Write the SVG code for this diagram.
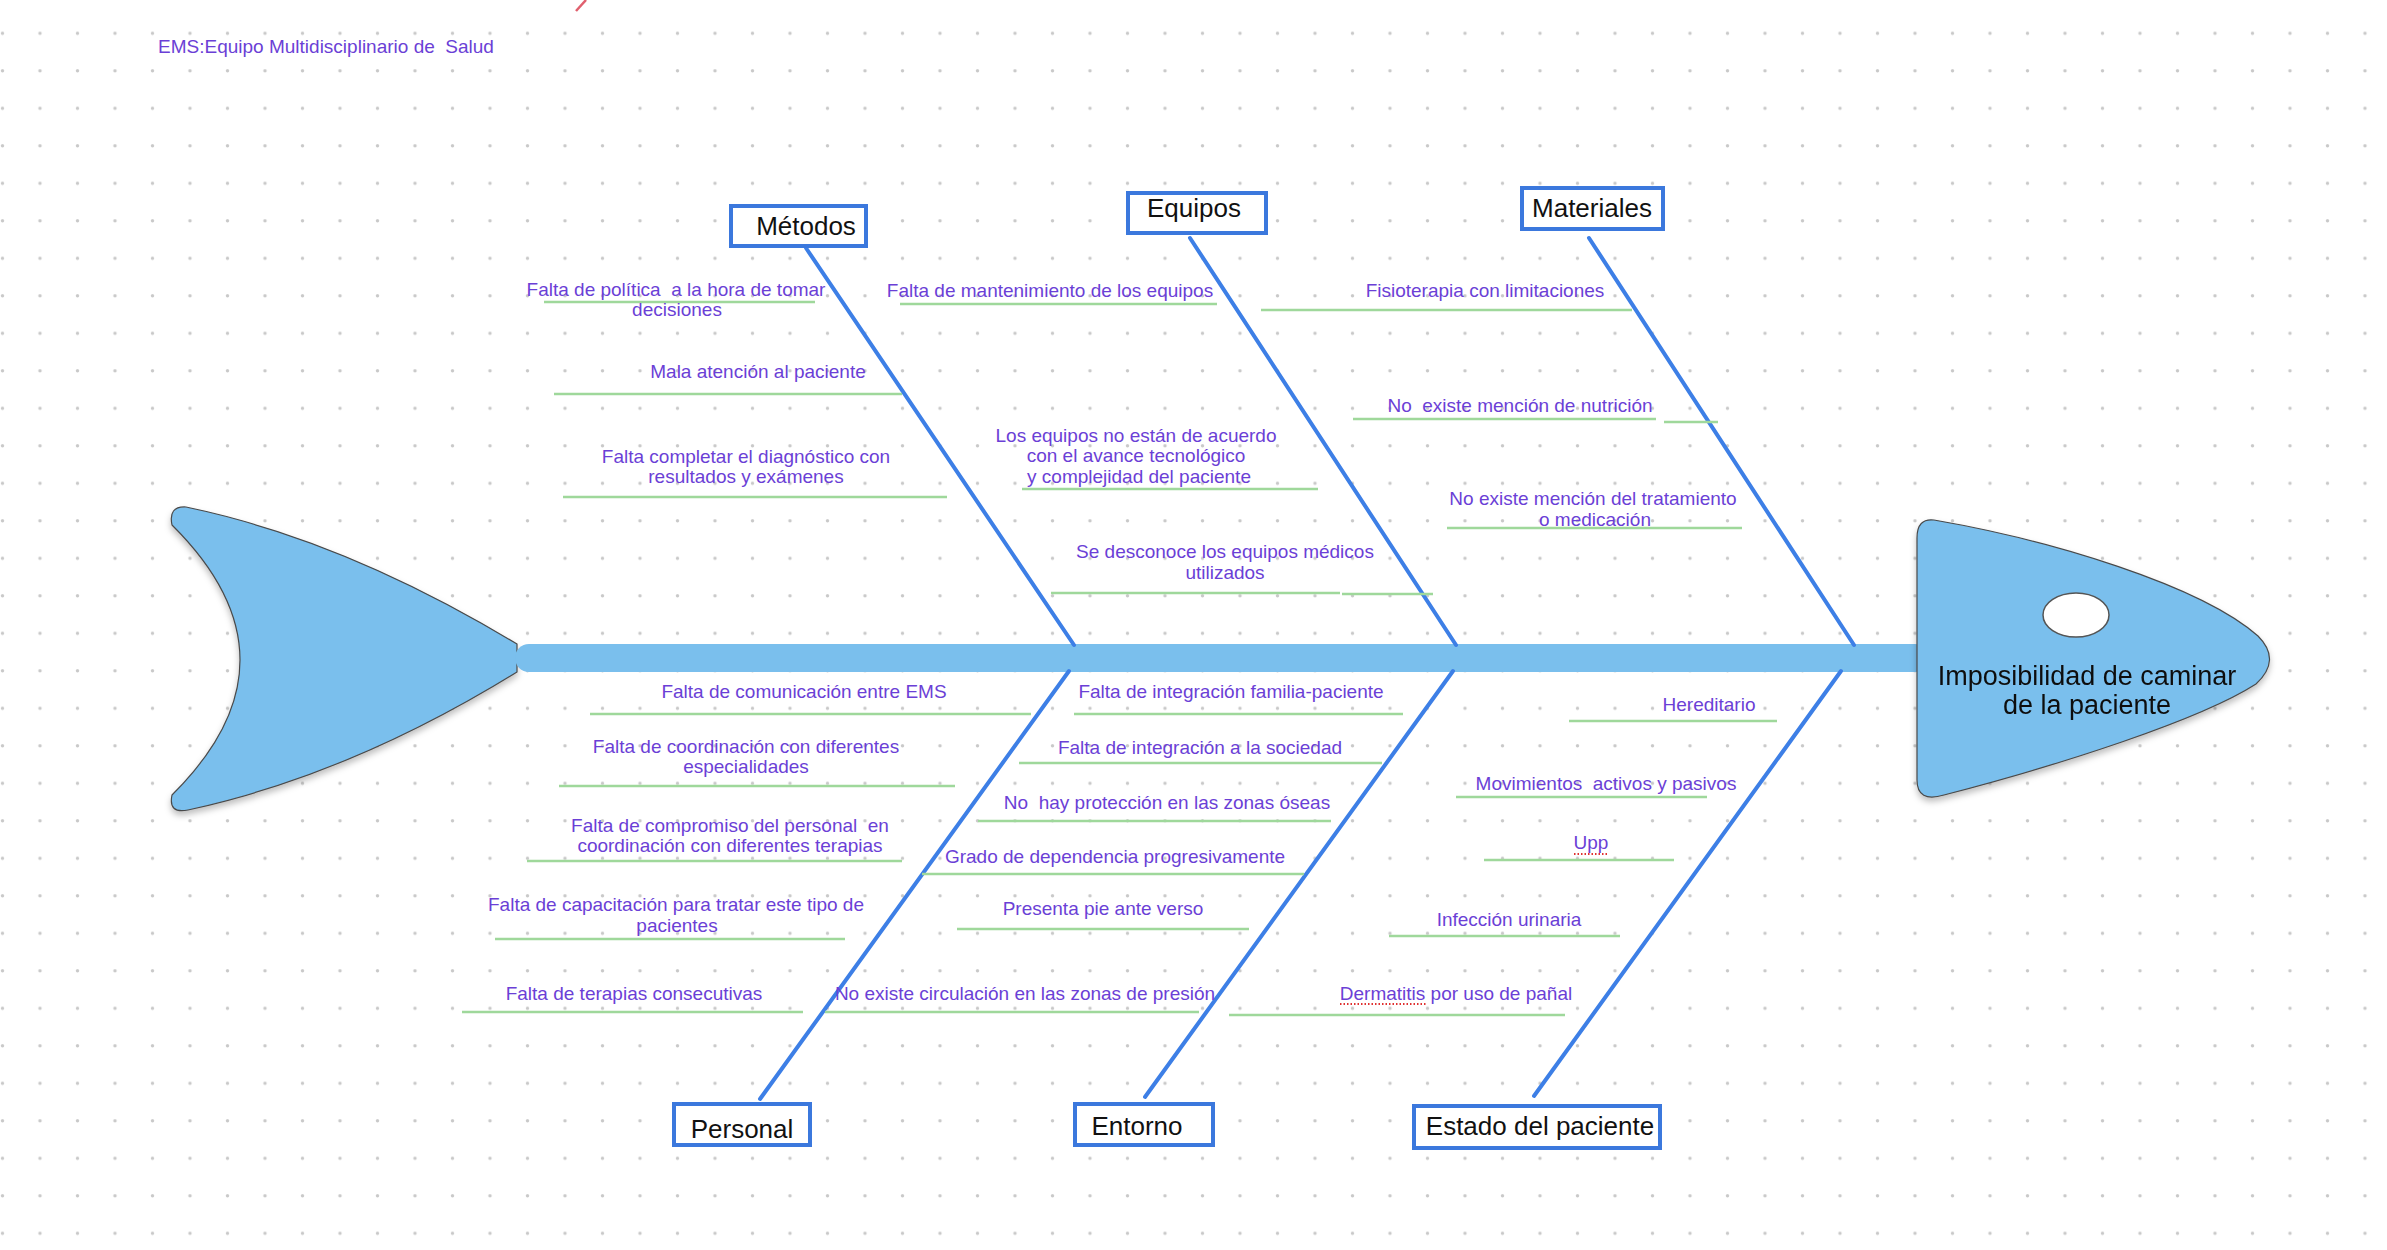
<svg xmlns="http://www.w3.org/2000/svg" width="2387" height="1250" viewBox="0 0 2387 1250" xml:space="preserve">
<defs>
<pattern id="dots" x="0" y="0" width="37.5" height="37.5" patternUnits="userSpaceOnUse"><circle cx="2.5" cy="33.3" r="1.7" fill="#c9c9c9"/></pattern>
<filter id="shadow" x="-10%" y="-10%" width="120%" height="130%"><feDropShadow dx="0" dy="4" stdDeviation="3" flood-color="#000" flood-opacity="0.25"/></filter>
<style>
text{white-space:pre}
.lbl{font-family:"Liberation Sans",Arial,sans-serif;font-size:19px;fill:#6b3fd6;text-anchor:middle}
.cap{font-family:"Liberation Sans",Arial,sans-serif;font-size:26px;fill:#111;text-anchor:middle}
.head{font-family:"Liberation Sans",Arial,sans-serif;font-size:27px;fill:#111;text-anchor:middle}
.sub{stroke:#9fd89b;stroke-width:2.5;fill:none}
.bone{stroke:#3d7fe6;stroke-width:4;fill:none;stroke-linecap:round}
.box{fill:#fff;stroke:#3b78dd;stroke-width:4}
.fish{fill:#7abfed;stroke:#4a4a4a;stroke-width:1.2}
.squig{stroke:#e03030;stroke-width:2;stroke-dasharray:1.5 2;fill:none}
</style>
</defs>
<rect id="background" x="0" y="0" width="2387" height="1250" fill="#fff"/>
<rect x="0" y="0" width="2387" height="1250" fill="url(#dots)"/>
<path d="M586,0 L576,11" stroke="#e0606e" stroke-width="2.5" fill="none"/>
<text class="lbl" x="326" y="53">EMS:Equipo Multidisciplinario de  Salud</text>

<g id="fish-tail" filter="url(#shadow)">
<path class="fish" d="M172,795 Q308,660 172,525 Q168,506 186,507 Q345,540 517,644 L517,672 Q350,775 188,810 Q168,814 172,795 Z"/>
</g>
<g id="spine">
<rect x="515" y="644" width="1414" height="28" rx="14" fill="#7abfed"/>
</g>
<g id="fish-head" filter="url(#shadow)">
<path class="fish" d="M1917,538 Q1917,518 1934,520 C2050,540 2200,585 2258,636 Q2282,660 2256,684 C2200,720 2060,765 1944,795 Q1917,803 1917,780 Z"/>
<ellipse cx="2076" cy="615" rx="33" ry="22" fill="#fff" stroke="#555" stroke-width="1.5"/>
<text class="head" x="2087" y="685">Imposibilidad de caminar</text>
<text class="head" x="2087" y="714">de la paciente</text>
</g>

<g id="connectors">
<line class="bone" x1="806" y1="248" x2="1074" y2="645"/>
<line class="bone" x1="1190" y1="238" x2="1456" y2="645"/>
<line class="bone" x1="1589" y1="238" x2="1854" y2="645"/>
<line class="bone" x1="1069" y1="671" x2="760" y2="1099"/>
<line class="bone" x1="1453" y1="671" x2="1145" y2="1097"/>
<line class="bone" x1="1841" y1="671" x2="1534" y2="1096"/>
</g>

<g id="node-metodos"><rect class="box" x="731" y="206" width="135" height="40"/><text class="cap" x="806" y="235">Métodos</text></g>
<g id="node-equipos"><rect class="box" x="1128" y="193" width="138" height="40"/><text class="cap" x="1194" y="217">Equipos</text></g>
<g id="node-materiales"><rect class="box" x="1522" y="188" width="141" height="41"/><text class="cap" x="1592" y="217">Materiales</text></g>
<g id="node-personal"><rect class="box" x="674" y="1104" width="136" height="41"/><text class="cap" x="742" y="1138">Personal</text></g>
<g id="node-entorno"><rect class="box" x="1075" y="1104" width="138" height="41"/><text class="cap" x="1137" y="1135">Entorno</text></g>
<g id="node-estado"><rect class="box" x="1414" y="1106" width="246" height="42"/><text class="cap" x="1540" y="1135">Estado del paciente</text></g>

<g id="causes-metodos">
<g><line class="sub" x1="544" y1="302" x2="815" y2="302"/><text class="lbl" x="676" y="296">Falta de política  a la hora de tomar</text><text class="lbl" x="677" y="316">decisiones</text></g>
<g><line class="sub" x1="554" y1="394" x2="902" y2="394"/><text class="lbl" x="758" y="378">Mala atención al paciente</text></g>
<g><line class="sub" x1="563" y1="497" x2="947" y2="497"/><text class="lbl" x="746" y="463">Falta completar el diagnóstico con</text><text class="lbl" x="746" y="483">resultados y exámenes</text></g>
</g>
<g id="causes-equipos">
<g><line class="sub" x1="900" y1="304" x2="1217" y2="304"/><text class="lbl" x="1050" y="297">Falta de mantenimiento de los equipos</text></g>
<g><line class="sub" x1="1022" y1="489" x2="1318" y2="489"/><text class="lbl" x="1136" y="442">Los equipos no están de acuerdo</text><text class="lbl" x="1136" y="462">con el avance tecnológico</text><text class="lbl" x="1139" y="483">y complejidad del paciente</text></g>
<g><line class="sub" x1="1051" y1="593" x2="1340" y2="593"/><line class="sub" x1="1342" y1="594" x2="1433" y2="594"/><text class="lbl" x="1225" y="558">Se desconoce los equipos médicos</text><text class="lbl" x="1225" y="579">utilizados</text></g>
</g>
<g id="causes-materiales">
<g><line class="sub" x1="1261" y1="310" x2="1632" y2="310"/><text class="lbl" x="1485" y="297">Fisioterapia con limitaciones</text></g>
<g><line class="sub" x1="1353" y1="419" x2="1656" y2="419"/><line class="sub" x1="1664" y1="422" x2="1718" y2="422"/><text class="lbl" x="1520" y="412">No  existe mención de nutrición</text></g>
<g><line class="sub" x1="1447" y1="528" x2="1742" y2="528"/><text class="lbl" x="1593" y="505">No existe mención del tratamiento</text><text class="lbl" x="1595" y="526">o medicación</text></g>
</g>
<g id="causes-personal">
<g><line class="sub" x1="590" y1="714" x2="1031" y2="714"/><text class="lbl" x="804" y="698">Falta de comunicación entre EMS</text></g>
<g><line class="sub" x1="559" y1="786" x2="955" y2="786"/><text class="lbl" x="746" y="753">Falta de coordinación con diferentes</text><text class="lbl" x="746" y="773">especialidades</text></g>
<g><line class="sub" x1="527" y1="861" x2="902" y2="861"/><text class="lbl" x="730" y="832">Falta de compromiso del personal  en</text><text class="lbl" x="730" y="852">coordinación con diferentes terapias</text></g>
<g><line class="sub" x1="495" y1="939" x2="845" y2="939"/><text class="lbl" x="676" y="911">Falta de capacitación para tratar este tipo de</text><text class="lbl" x="677" y="932">pacientes</text></g>
<g><line class="sub" x1="462" y1="1012" x2="803" y2="1012"/><text class="lbl" x="634" y="1000">Falta de terapias consecutivas</text></g>
</g>
<g id="causes-entorno">
<g><line class="sub" x1="1074" y1="714" x2="1403" y2="714"/><text class="lbl" x="1231" y="698">Falta de integración familia-paciente</text></g>
<g><line class="sub" x1="1019" y1="763" x2="1382" y2="763"/><text class="lbl" x="1200" y="754">Falta de integración a la sociedad</text></g>
<g><line class="sub" x1="978" y1="821" x2="1331" y2="821"/><text class="lbl" x="1167" y="809">No  hay protección en las zonas óseas</text></g>
<g><line class="sub" x1="922" y1="874" x2="1304" y2="874"/><text class="lbl" x="1115" y="863">Grado de dependencia progresivamente</text></g>
<g><line class="sub" x1="957" y1="929" x2="1249" y2="929"/><text class="lbl" x="1103" y="915">Presenta pie ante verso</text></g>
<g><line class="sub" x1="825" y1="1012" x2="1199" y2="1012"/><text class="lbl" x="1025" y="1000">No existe circulación en las zonas de presión</text></g>
</g>
<g id="causes-estado">
<g><line class="sub" x1="1569" y1="721" x2="1777" y2="721"/><text class="lbl" x="1709" y="711">Hereditario</text></g>
<g><line class="sub" x1="1456" y1="797" x2="1707" y2="797"/><text class="lbl" x="1606" y="790">Movimientos  activos y pasivos</text></g>
<g><line class="sub" x1="1484" y1="860" x2="1674" y2="860"/><text class="lbl" x="1591" y="849">Upp</text><line class="squig" x1="1574" y1="854" x2="1608" y2="854"/></g>
<g><line class="sub" x1="1389" y1="936" x2="1620" y2="936"/><text class="lbl" x="1509" y="926">Infección urinaria</text></g>
<g><line class="sub" x1="1229" y1="1015" x2="1565" y2="1015"/><text class="lbl" x="1456" y="1000">Dermatitis por uso de pañal</text><line class="squig" x1="1340" y1="1004" x2="1427" y2="1004"/></g>
</g>
</svg>
